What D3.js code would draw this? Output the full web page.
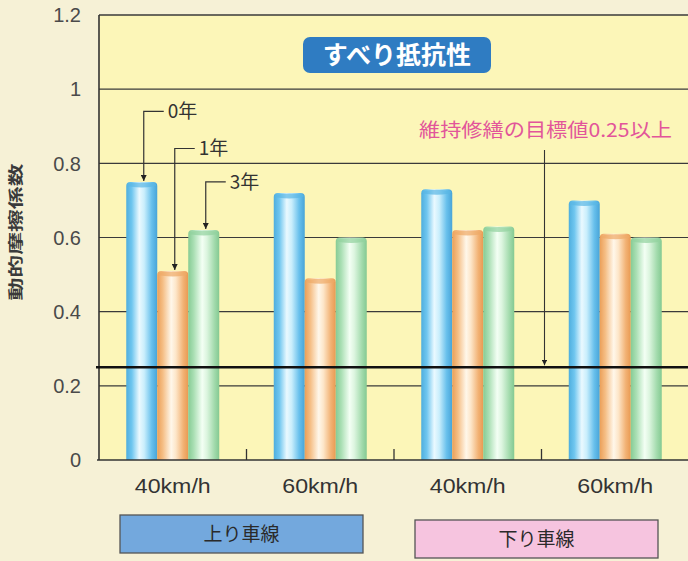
<!DOCTYPE html>
<html><head><meta charset="utf-8">
<script src="https://cdn.jsdelivr.net/npm/d3@7"></script>
<style>html,body{margin:0;padding:0;background:#f6f1d6;}svg{display:block;}</style>
</head><body>
<script>
// ---- data ----
const categories = ["40km/h", "60km/h", "40km/h", "60km/h"];
const laneGroups = ["上り車線", "下り車線"];
const seriesNames = ["0年", "1年", "3年"];
const year0 = [0.75, 0.72, 0.73, 0.70];
const year1 = [0.51, 0.49, 0.62, 0.61];
const year3 = [0.62, 0.60, 0.63, 0.60];
const yTicks = [0, 0.2, 0.4, 0.6, 0.8, 1, 1.2];
const targetValue = 0.25;
const targetLabel = "維持修繕の目標値0.25以上";
const title = "すべり抵抗性";
const yTitle = "動的摩擦係数";
const seriesLabelLevels = [0.94, 0.84, 0.75];

const W = 688, H = 561;
const m = {left: 99, right: -1, top: 15, bottom: 101};
const svg = d3.select("body").append("svg").attr("width", W).attr("height", H);

const x0 = d3.scaleBand().domain(d3.range(categories.length)).range([m.left, W - m.right]).padding(0);
const barW = 31;
const x1 = d3.scaleBand().domain(seriesNames).range([0, barW * 3]).padding(0);
const groupOff = (x0.bandwidth() - barW * 3) / 2;
const y = d3.scaleLinear().domain([0, 1.2]).range([H - m.bottom, m.top]);

const series = [year0, year1, year3];

// gradients
const defs = svg.append("defs");
const grads = [
  ["g0", [["0%", "#4eaede"], ["18%", "#6fc6ef"], ["42%", "#eaf9ff"], ["58%", "#c9eefc"], ["82%", "#68c0ec"], ["100%", "#48a4d8"]]],
  ["g1", [["0%", "#eb9f58"], ["18%", "#f5be85"], ["45%", "#fff7ea"], ["60%", "#fde6c9"], ["84%", "#f2b274"], ["100%", "#e99a52"]]],
  ["g2", [["0%", "#86cb94"], ["18%", "#aadfb4"], ["45%", "#f3fff4"], ["60%", "#dcf5df"], ["84%", "#a3dbad"], ["100%", "#84c992"]]]
];
grads.forEach(([id, stops]) => {
  const g = defs.append("linearGradient").attr("id", id).attr("x1", "0%").attr("x2", "100%").attr("y1", "0%").attr("y2", "0%");
  stops.forEach(([o, c]) => g.append("stop").attr("offset", o).attr("stop-color", c));
});
const capColors = ["#5ab6e4", "#eeaa66", "#92d29e"];

// plot background
svg.append("rect").attr("x", m.left).attr("y", m.top).attr("width", W - m.left).attr("height", y(0) - m.top).attr("fill", "#fcf6b8");

// grid lines
svg.append("g").selectAll("line").data(yTicks.filter(t => t > 0)).join("line")
  .attr("x1", m.left).attr("x2", W).attr("y1", d => y(d)).attr("y2", d => y(d))
  .attr("stroke", "#3a3a3a").attr("stroke-width", d => d === 1.2 ? 1.6 : 1.1);

// bars
const gBars = svg.append("g");
series.forEach((vals, si) => {
  vals.forEach((v, ci) => {
    const bx = x0(ci) + groupOff + x1(seriesNames[si]);
    const yt = y(v), yb = y(0), r = 4;
    gBars.append("path")
      .attr("d", `M${bx},${yb} L${bx},${yt + r} Q${bx},${yt} ${bx + r},${yt} L${bx + barW - r},${yt} Q${bx + barW},${yt} ${bx + barW},${yt + r} L${bx + barW},${yb} Z`)
      .attr("fill", `url(#g${si})`);
    gBars.append("ellipse").attr("cx", bx + barW / 2).attr("cy", yt + 3).attr("rx", barW / 2 - 1).attr("ry", 2.5)
      .attr("fill", capColors[si]).attr("opacity", 0.7);
  });
});

// axes
svg.append("line").attr("x1", m.left).attr("x2", m.left).attr("y1", m.top).attr("y2", y(0)).attr("stroke", "#333").attr("stroke-width", 1.6);
svg.append("line").attr("x1", m.left - 2).attr("x2", W).attr("y1", y(0)).attr("y2", y(0)).attr("stroke", "#333").attr("stroke-width", 1.6);
svg.append("g").selectAll("line").data(d3.range(1, categories.length)).join("line")
  .attr("x1", d => x0(d)).attr("x2", d => x0(d)).attr("y1", y(0)).attr("y2", y(0) - 11)
  .attr("stroke", "#333").attr("stroke-width", 1.3);

// y tick labels
svg.append("g").selectAll("text").data(yTicks).join("text")
  .attr("x", 81).attr("y", d => y(d)).attr("dy", "0.36em").attr("text-anchor", "end")
  .attr("font-family", "Liberation Sans, Arial, sans-serif").attr("font-size", 20).attr("fill", "#4a4a4a")
  .text(d => d3.format("")(d));

// y title
svg.append("text").attr("transform", `translate(21,${232}) rotate(-90)`).attr("text-anchor", "middle")
  .attr("font-family", "Noto Sans CJK JP").attr("font-size", 15).attr("font-weight", 700).attr("fill", "#3a3a3a")
  .attr("textLength", 137).attr("lengthAdjust", "spacingAndGlyphs").text(yTitle);

// x labels
svg.append("g").selectAll("text").data(categories).join("text")
  .attr("x", (d, i) => x0(i) + x0.bandwidth() / 2).attr("y", 493).attr("text-anchor", "middle")
  .attr("font-family", "Liberation Sans, Arial, sans-serif").attr("font-size", 20).attr("fill", "#333")
  .attr("textLength", 76).attr("lengthAdjust", "spacingAndGlyphs").text(d => d);

// target line
svg.append("line").attr("x1", m.left - 3).attr("x2", W).attr("y1", y(targetValue)).attr("y2", y(targetValue))
  .attr("stroke", "#111").attr("stroke-width", 2.6);

// arrow marker
defs.append("marker").attr("id", "arr").attr("viewBox", "0 0 10 10").attr("refX", 10).attr("refY", 5)
  .attr("markerWidth", 5).attr("markerHeight", 5).attr("orient", "auto")
  .append("path").attr("d", "M0,0 L10,5 L0,10 Z").attr("fill", "#222");

// series labels with leader arrows
seriesNames.forEach((s, si) => {
  const cx = x0(0) + groupOff + x1(s) + barW / 2 + 2;
  const ly = y(seriesLabelLevels[si]);
  svg.append("path").attr("d", `M${cx + 20},${ly} L${cx},${ly} L${cx},${y(series[si][0]) - 1}`)
    .attr("fill", "none").attr("stroke", "#333").attr("stroke-width", 1.2).attr("marker-end", "url(#arr)");
  svg.append("text").attr("x", cx + 24).attr("y", ly).attr("dy", "0.36em")
    .attr("font-family", "Noto Sans CJK JP").attr("font-size", 19).attr("fill", "#333").text(s);
});

// target annotation
const ax = x0(3) + 3;
svg.append("text").attr("x", 419).attr("y", 137)
  .attr("font-family", "Noto Sans CJK JP").attr("font-size", 19).attr("fill", "#e2559a")
  .attr("textLength", 253).attr("lengthAdjust", "spacingAndGlyphs").text(targetLabel);
svg.append("line").attr("x1", ax).attr("x2", ax).attr("y1", 150).attr("y2", y(targetValue) - 2)
  .attr("stroke", "#333").attr("stroke-width", 1.1).attr("marker-end", "url(#arr)");

// title box
svg.append("rect").attr("x", 303).attr("y", 37).attr("width", 188).attr("height", 36).attr("rx", 7)
  .attr("fill", "#2f7cc2");
svg.append("text").attr("x", 397).attr("y", 55).attr("dy", "0.36em").attr("text-anchor", "middle")
  .attr("font-family", "Noto Sans CJK JP").attr("font-size", 25).attr("font-weight", 700).attr("fill", "#fff")
  .text(title);

// lane group boxes
const laneFills = ["#73a8dd", "#f6c4df"];
laneGroups.forEach((g, gi) => {
  const bx = x0(gi * 2) + 21 - (gi ? 0 : 0);
  const bw = x0.bandwidth() * 2 - 52;
  const by = gi ? 520 : 515;
  svg.append("rect").attr("x", bx).attr("y", by).attr("width", bw).attr("height", 38)
    .attr("fill", laneFills[gi]).attr("stroke", "#555").attr("stroke-width", 1.3);
  svg.append("text").attr("x", bx + bw / 2).attr("y", by + 19).attr("dy", "0.36em").attr("text-anchor", "middle")
    .attr("font-family", "Noto Sans CJK JP").attr("font-size", 19).attr("fill", "#2a2a2a").text(g);
});
</script>
</body></html>
